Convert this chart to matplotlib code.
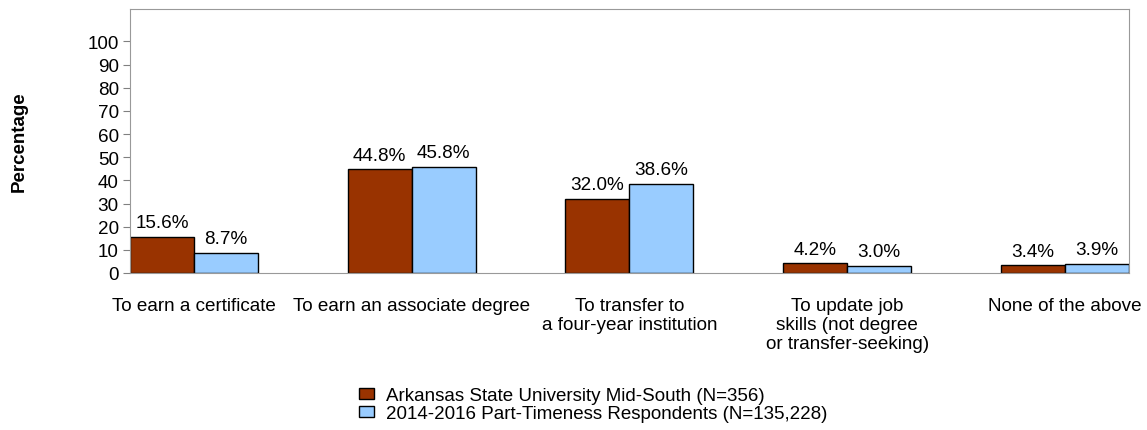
import matplotlib
matplotlib.use("Agg")
import matplotlib.pyplot as plt
import numpy as np

categories = ["To earn a certificate", "To earn an associate degree",
              "To transfer to\na four-year institution",
              "To update job\nskills (not degree\nor transfer-seeking)",
              "None of the above"]
college = [15.6, 44.8, 32.0, 4.2, 3.4]
national = [8.7, 45.8, 38.6, 3.0, 3.9]
series_names = ["Arkansas State University Mid-South (N=356)",
                "2014-2016 Part-Timeness Respondents (N=135,228)"]
yticks = list(range(0, 101, 10))

plt.rcParams['font.family'] = ['Liberation Sans', 'DejaVu Sans']
fs = 13.6

fig = plt.figure(figsize=(11.47, 4.31), dpi=100)
ax = fig.add_axes([0.1133, 0.3643, 0.871, 0.6125])

x = np.arange(len(categories))
w = 0.294
b1 = ax.bar(x - w/2, college, w, color="#993300", edgecolor="black", linewidth=1, label=series_names[0])
b2 = ax.bar(x + w/2, national, w, color="#99CCFF", edgecolor="black", linewidth=1, label=series_names[1])

for bars, vals in ((b1, college), (b2, national)):
    for r, v in zip(bars, vals):
        ax.annotate("%.1f%%" % v, (r.get_x() + r.get_width()/2, v),
                    xytext=(0, 4), textcoords="offset points",
                    ha="center", va="bottom", fontsize=fs)

ax.set_xlim(-0.294, 4.294)
ax.set_ylim(0, 114)
ax.set_yticks(yticks)
ax.set_xticks(x)
ax.set_xticklabels(categories, fontsize=fs, linespacing=1.15)
ax.tick_params(axis="x", length=0, pad=17.5)
ax.tick_params(axis="y", labelsize=fs, length=5, color="#808080", pad=3)
for s in ax.spines.values():
    s.set_color("#999999")
ax.set_ylabel("Percentage", fontsize=13.5, fontweight="bold")
ax.yaxis.set_label_coords(-0.102, 0.5)

fig.legend(loc="upper left", bbox_to_anchor=(0.313, 0.1), frameon=False,
           fontsize=13.5, handlelength=0.8, handleheight=0.53, handletextpad=0.64,
           labelspacing=0.05, borderpad=0, borderaxespad=0)

plt.savefig("out.png", dpi=100)
